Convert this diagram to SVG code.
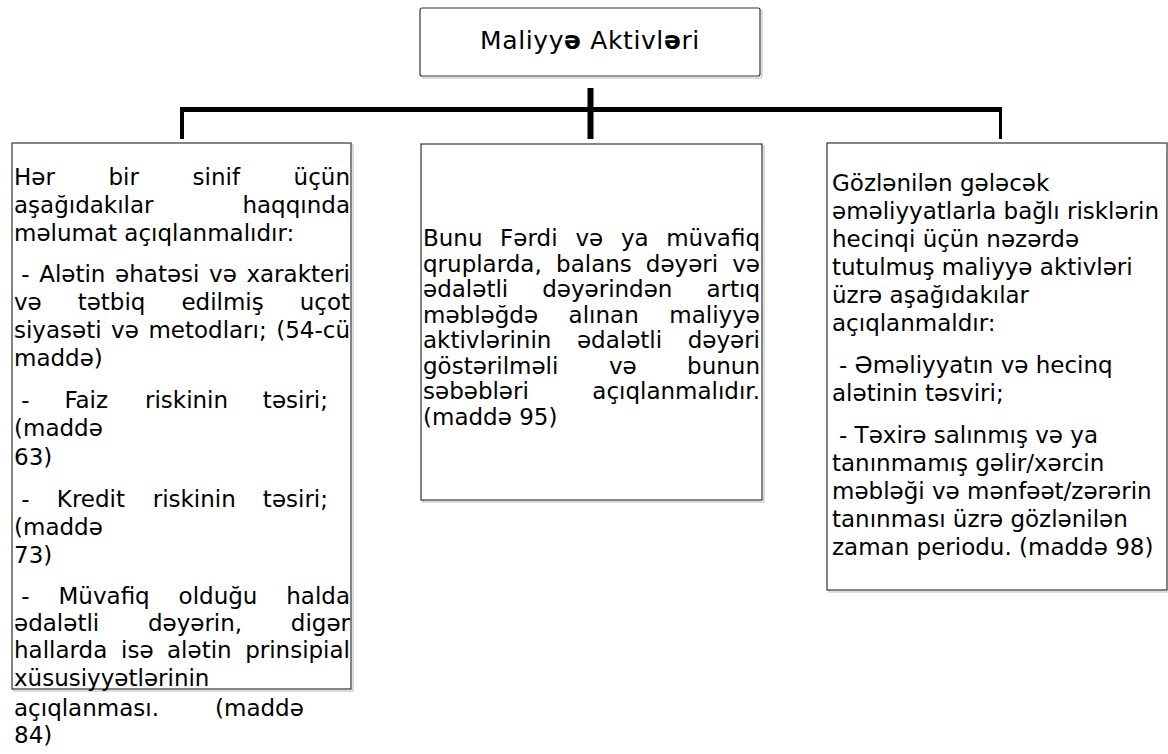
<svg xmlns="http://www.w3.org/2000/svg" width="1168" height="754" viewBox="0 0 1168 754">
<style>
.t { font-family: "DejaVu Sans", Verdana, sans-serif; font-size: 23px; fill: #000; }
.title { font-family: "DejaVu Sans", Verdana, sans-serif; font-size: 25px; fill: #000; letter-spacing: 0.6px; }
.box { fill: #fff; stroke: #333; stroke-width: 1.2; }
.shadow { fill: none; stroke: #cfcfcf; stroke-width: 1.5; }
.conn { stroke: #000; fill: none; }
.e { text-anchor: end; }
</style>
<rect width="1168" height="754" fill="#fff"/>

<g id="connectors">
  <line class="conn" x1="180" y1="109.5" x2="1002" y2="109.5" stroke-width="5"/>
  <line class="conn" x1="182" y1="107" x2="182" y2="139" stroke-width="4"/>
  <line class="conn" x1="1000.5" y1="107" x2="1000.5" y2="139" stroke-width="3"/>
  <line class="conn" x1="590.5" y1="88" x2="590.5" y2="139" stroke-width="6"/>
</g>

<g id="node-title">
  <rect class="shadow" x="422" y="10" width="340" height="68" rx="2"/>
  <rect class="box" x="420" y="8" width="340" height="68" rx="2"/>
  <text class="title" x="590" y="49" text-anchor="middle">Maliyy<tspan font-weight="bold">ə</tspan> Aktivl<tspan font-weight="bold">ə</tspan>ri</text>
</g>

<g id="node-left">
  <rect class="shadow" x="14" y="145" width="339" height="546"/>
  <rect class="box" x="12" y="143" width="339" height="546"/>
  <text class="t" y="185"><tspan x="14">Hər</tspan><tspan x="108.5">bir</tspan><tspan x="192.6">sinif</tspan><tspan x="350" class="e">üçün</tspan></text>
  <text class="t" y="213"><tspan x="14">aşağıdakılar</tspan><tspan x="350" class="e">haqqında</tspan></text>
  <text class="t" x="14" y="241">məlumat açıqlanmalıdır:</text>
  <text class="t" y="282"><tspan x="21.3">-</tspan><tspan x="39.2">Alətin</tspan><tspan x="115.1">əhatəsi</tspan><tspan x="209.1">və</tspan><tspan x="350" class="e">xarakteri</tspan></text>
  <text class="t" y="310"><tspan x="14">və</tspan><tspan x="77.7">tətbiq</tspan><tspan x="181.4">edilmiş</tspan><tspan x="350" class="e">uçot</tspan></text>
  <text class="t" y="338"><tspan x="14">siyasəti</tspan><tspan x="111.1">və</tspan><tspan x="148.4">metodları;</tspan><tspan x="350" class="e">(54-cü</tspan></text>
  <text class="t" x="14" y="366">maddə)</text>
  <text class="t" y="408"><tspan x="21.3">-</tspan><tspan x="64.4">Faiz</tspan><tspan x="145">riskinin</tspan><tspan x="328" class="e">təsiri;</tspan></text>
  <text class="t" x="14" y="436">(maddə</text>
  <text class="t" x="14" y="465">63)</text>
  <text class="t" y="507"><tspan x="21.3">-</tspan><tspan x="56.8">Kredit</tspan><tspan x="152.7">riskinin</tspan><tspan x="328" class="e">təsiri;</tspan></text>
  <text class="t" x="14" y="535">(maddə</text>
  <text class="t" x="14" y="563">73)</text>
  <text class="t" y="604"><tspan x="21.3">-</tspan><tspan x="58.5">Müvafiq</tspan><tspan x="178.6">olduğu</tspan><tspan x="350" class="e">halda</tspan></text>
  <text class="t" y="631"><tspan x="14">ədalətli</tspan><tspan x="147.9">dəyərin,</tspan><tspan x="350" class="e">digər</tspan></text>
  <text class="t" y="658"><tspan x="14">hallarda</tspan><tspan x="121.1">isə</tspan><tspan x="167">alətin</tspan><tspan x="350" class="e">prinsipial</tspan></text>
  <text class="t" x="14" y="686">xüsusiyyətlərinin</text>
  <text class="t" y="716"><tspan x="14">açıqlanması.</tspan><tspan x="215">(maddə</tspan></text>
  <text class="t" x="14" y="743">84)</text>
</g>

<g id="node-center">
  <rect class="shadow" x="423" y="146" width="341" height="356"/>
  <rect class="box" x="421" y="144" width="341" height="356"/>
  <text class="t" y="246"><tspan x="423">Bunu</tspan><tspan x="500.1">Fərdi</tspan><tspan x="575.5">və</tspan><tspan x="620.9">ya</tspan><tspan x="760" class="e">müvafiq</tspan></text>
  <text class="t" y="271.5"><tspan x="423">qruplarda,</tspan><tspan x="556.1">balans</tspan><tspan x="645.8">dəyəri</tspan><tspan x="760" class="e">və</tspan></text>
  <text class="t" y="297"><tspan x="423">ədalətli</tspan><tspan x="542.2">dəyərindən</tspan><tspan x="760" class="e">artıq</tspan></text>
  <text class="t" y="322.5"><tspan x="423">məbləğdə</tspan><tspan x="568.6">alınan</tspan><tspan x="760" class="e">maliyyə</tspan></text>
  <text class="t" y="348"><tspan x="423">aktivlərinin</tspan><tspan x="576.9">ədalətli</tspan><tspan x="760" class="e">dəyəri</tspan></text>
  <text class="t" y="373.5"><tspan x="423">göstərilməli</tspan><tspan x="608.9">və</tspan><tspan x="760" class="e">bunun</tspan></text>
  <text class="t" y="399"><tspan x="423">səbəbləri</tspan><tspan x="760" class="e">açıqlanmalıdır.</tspan></text>
  <text class="t" x="423" y="424.5">(maddə 95)</text>
</g>

<g id="node-right">
  <rect class="shadow" x="829" y="145" width="340" height="447"/>
  <rect class="box" x="827" y="143" width="340" height="447"/>
  <text class="t" x="832" y="191">Gözlənilən gələcək</text>
  <text class="t" x="832" y="219">əməliyyatlarla bağlı risklərin</text>
  <text class="t" x="832" y="247">hecinqi üçün nəzərdə</text>
  <text class="t" x="832" y="275">tutulmuş maliyyə aktivləri</text>
  <text class="t" x="832" y="303">üzrə aşağıdakılar</text>
  <text class="t" x="832" y="331">açıqlanmaldır:</text>
  <text class="t" x="839" y="373">- Əməliyyatın və hecinq</text>
  <text class="t" x="832" y="401">alətinin təsviri;</text>
  <text class="t" x="839" y="443">- Təxirə salınmış və ya</text>
  <text class="t" x="832" y="471">tanınmamış gəlir/xərcin</text>
  <text class="t" x="832" y="499">məbləği və mənfəət/zərərin</text>
  <text class="t" x="832" y="527">tanınması üzrə gözlənilən</text>
  <text class="t" x="832" y="555">zaman periodu. (maddə 98)</text>
</g>
</svg>
